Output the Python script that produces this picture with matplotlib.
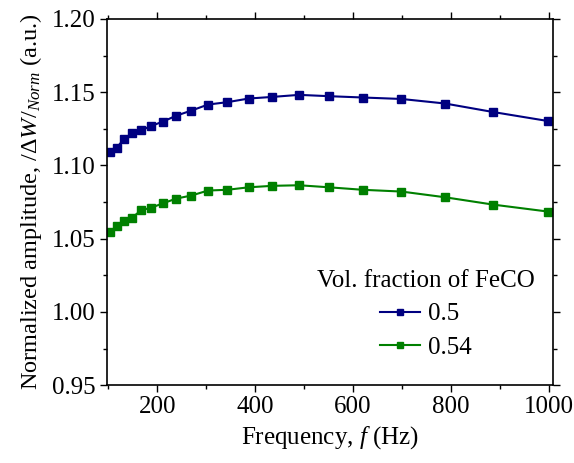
import matplotlib
matplotlib.use('Agg')
import matplotlib.pyplot as plt
from matplotlib.ticker import MultipleLocator

plt.rcParams['font.family'] = 'Liberation Serif'
plt.rcParams['mathtext.fontset'] = 'custom'
plt.rcParams['mathtext.rm'] = 'Liberation Serif'
plt.rcParams['mathtext.it'] = 'Liberation Serif:italic'
plt.rcParams['mathtext.default'] = 'it'

freq = [103, 117, 132, 149, 167, 188, 212, 239, 270, 304, 343, 387, 435, 490,
        551, 620, 699, 788, 886, 999]
amp_05 = [1.109, 1.112, 1.118, 1.122, 1.124, 1.127, 1.130, 1.134, 1.1375, 1.1416,
          1.1432, 1.1457, 1.1468, 1.1482, 1.1473, 1.1464, 1.1454, 1.1423, 1.1365, 1.1303]
amp_054 = [1.0543, 1.0587, 1.0621, 1.0644, 1.0694, 1.0712, 1.0742, 1.0774, 1.0795, 1.0829,
           1.0834, 1.0851, 1.0861, 1.0865, 1.0851, 1.0834, 1.0822, 1.0783, 1.0733, 1.0685]
labels = ['0.5', '0.54']

fig = plt.figure(figsize=(5.74, 4.63), dpi=100)
ax = fig.add_axes([0.186, 0.168, 0.777, 0.791])

ax.plot(freq, amp_05, '-s', color='#000080', lw=1.5, ms=6, label=labels[0])
ax.plot(freq, amp_054, '-s', color='#008000', lw=1.5, ms=6, label=labels[1])

ax.set_xlim(97, 1008)
ax.set_ylim(0.95, 1.20)
ax.xaxis.set_major_locator(MultipleLocator(200))
ax.xaxis.set_minor_locator(MultipleLocator(100))
ax.yaxis.set_major_locator(MultipleLocator(0.05))
ax.yaxis.set_minor_locator(MultipleLocator(0.025))
ax.yaxis.set_major_formatter(matplotlib.ticker.FormatStrFormatter('%.2f'))
ax.tick_params(which='both', direction='out', top=True, right=True,
               labeltop=False, labelright=False, labelsize=18, width=1)
ax.tick_params(which='major', length=5, pad=3)
ax.tick_params(which='minor', length=3)
for s in ax.spines.values():
    s.set_linewidth(1.2)

ax.set_xlabel(r'Frequency, $f$ (Hz)', fontsize=18, labelpad=4)
ax.set_ylabel(r'Normalized amplitude, $/\mathit{ΔW}/_{Norm}$ (a.u.)', fontsize=17.5, labelpad=6)

leg = ax.legend(title='Vol. fraction of FeCO', frameon=False, fontsize=18,
                title_fontsize=18, loc='lower right', bbox_to_anchor=(1.01, 0.01),
                handlelength=1.6, handletextpad=0.3, labelspacing=0.45,
                markerscale=0.75)

fig.savefig('out.png')
